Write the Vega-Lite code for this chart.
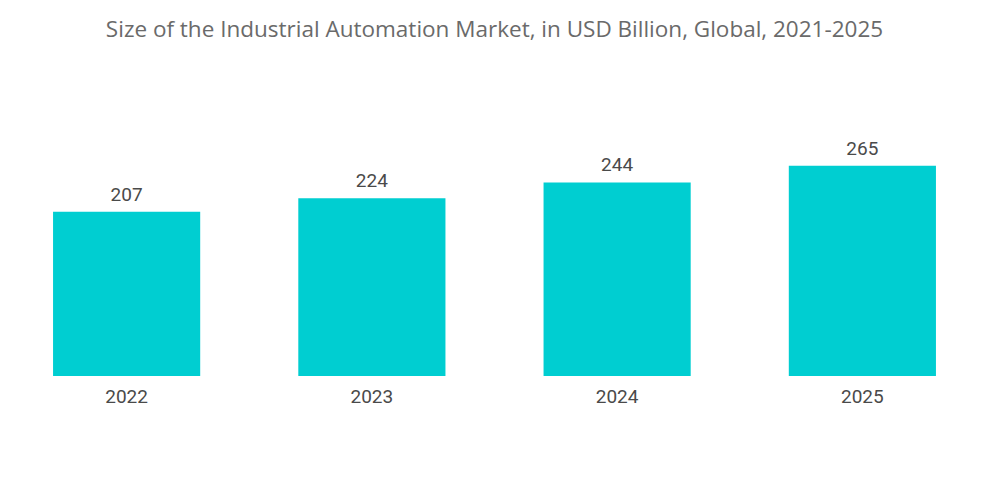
{
  "$schema": "https://vega.github.io/schema/vega-lite/v6.json",
  "autosize": "none",
  "width": 981,
  "height": 238,
  "padding": {"left": 4, "top": 138, "right": 15, "bottom": 128},
  "background": "white",
  "title": {
    "text": "Size of the Industrial Automation Market, in USD Billion, Global, 2021-2025",
    "font": "Open Sans",
    "fontSize": 22.5,
    "fontWeight": "normal",
    "color": "#6a6a6a",
    "anchor": "middle",
    "baseline": "alphabetic",
    "offset": 79
  },
  "data": {
    "values": [
      {"year": "2022", "value": 207},
      {"year": "2023", "value": 224},
      {"year": "2024", "value": 244},
      {"year": "2025", "value": 265}
    ]
  },
  "encoding": {
    "x": {
      "field": "year",
      "type": "ordinal",
      "title": null,
      "scale": {"paddingInner": 0.4, "paddingOuter": 0.2},
      "axis": {
        "domain": false,
        "ticks": false,
        "labelAngle": 0,
        "labelFont": "Roboto",
        "labelFontSize": 19,
        "labelColor": "#4a4a4a",
        "labelPadding": 11
      }
    },
    "y": {
      "field": "value",
      "type": "quantitative",
      "scale": {"domain": [0, 300], "nice": false},
      "axis": null
    }
  },
  "layer": [
    {"mark": {"type": "bar", "color": "#00CED1"}},
    {
      "mark": {
        "type": "text",
        "baseline": "bottom",
        "dy": -7,
        "font": "Roboto",
        "fontSize": 19,
        "color": "#4a4a4a"
      },
      "encoding": {"text": {"field": "value", "type": "quantitative"}}
    }
  ],
  "config": {"view": {"stroke": null}}
}
